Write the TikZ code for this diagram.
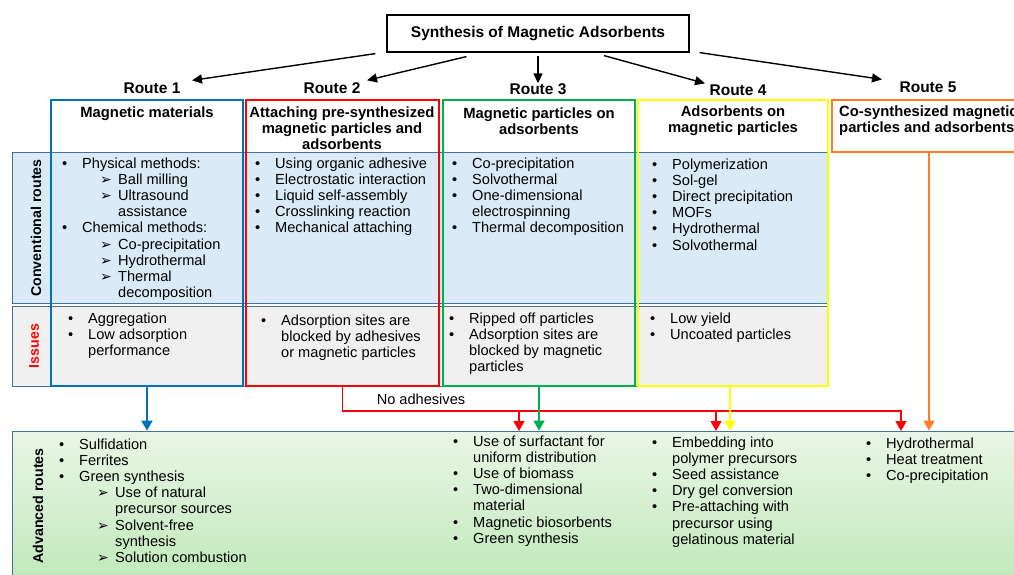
\documentclass[tikz,border=0pt]{standalone}
\usepackage{fontspec}
\setmainfont{Liberation Sans}
\newfontfamily\symfont{DejaVu Sans}
\usetikzlibrary{arrows.meta}
\definecolor{routeblue}{RGB}{0,112,192}
\definecolor{routered}{RGB}{255,0,0}
\definecolor{routegreen}{RGB}{0,176,80}
\definecolor{routeyellow}{RGB}{255,255,0}
\definecolor{routeorange}{RGB}{255,125,40}
\definecolor{convband}{RGB}{219,234,247}
\definecolor{issueband}{RGB}{240,240,240}
\definecolor{bandedge}{RGB}{65,113,156}
\definecolor{advtop}{RGB}{234,246,230}
\definecolor{advbottom}{RGB}{190,232,184}
\newcommand{\bul}{\makebox[20pt][l]{•}}
\newcommand{\ind}{\hspace*{20pt}}
\newcommand{\subarr}{\hspace*{38pt}\makebox[18pt][l]{\symfont\fontsize{14}{14}\selectfont ➢}}
\newcommand{\subind}{\hspace*{56pt}}
\tikzset{
  item/.style={font=\fontsize{14.6}{16.2}\selectfont, align=left, inner sep=0pt, anchor=north west},
  head/.style={font=\bfseries\fontsize{14.8}{16}\selectfont, align=center, inner sep=0pt},
  route/.style={font=\bfseries\fontsize{15.5}{16}\selectfont, inner sep=0pt},
  rowlabel/.style={font=\bfseries\fontsize{14.2}{16}\selectfont, rotate=90, inner sep=0pt},
  colbox/.style={draw=#1, line width=1.7pt, inner sep=0pt},
  band/.style={draw=bandedge, line width=0.7pt, inner sep=0pt},
  topconn/.style={line width=1.4pt, -{Triangle[length=10pt,width=9pt]}},
  conn/.style={#1, line width=1.6pt, -{Triangle[length=10pt,width=11pt]}},
}
\begin{document}
\begin{tikzpicture}[x=1pt, y=-1pt]
\useasboundingbox (0,0) rectangle (1014,575);
\clip (0,0) rectangle (1014,575);

\node[band, fill=convband, minimum width=816pt, minimum height=151pt] (conv) at (420,227.5) {};
\node[band, fill=issueband, minimum width=816pt, minimum height=80pt] (iss) at (420,346) {};
\node[band, top color=advtop, bottom color=advbottom, minimum width=1018pt, minimum height=159pt] (adv) at (521,510.5) {};

\node[colbox=routeblue, minimum width=192pt, minimum height=286pt] (col1) at (147,243) {};
\node[colbox=routered, minimum width=193pt, minimum height=286pt] (col2) at (342.5,243) {};
\node[colbox=routegreen, minimum width=192pt, minimum height=286pt] (col3) at (539,243) {};
\node[colbox=routeyellow, minimum width=190pt, minimum height=286pt] (col4) at (733,243) {};
\node[colbox=routeorange, minimum width=194pt, minimum height=52pt] (col5) at (929,126) {};

\node[draw, line width=1.2pt, minimum width=302pt, minimum height=37pt, font=\bfseries\fontsize{15.5}{16}\selectfont] (title) at (538,33.5) {Synthesis of Magnetic Adsorbents};

\node[route] (r1) at (152,88) {Route 1};
\node[route] (r2) at (332,88) {Route 2};
\node[route] (r3) at (538,89) {Route 3};
\node[route] (r4) at (738,90) {Route 4};
\node[route] (r5) at (928,87) {Route 5};

\draw[topconn] ([xshift=-11pt,yshift=-1pt]title.south west) -- ([xshift=40pt,yshift=2pt]r1.north);
\draw[topconn] ([xshift=80pt,yshift=-4pt]title.south west) -- ([xshift=35pt,yshift=2pt]r2.north);
\draw[topconn] ([yshift=-3pt]title.south) -- (r3.north);
\draw[topconn] ([xshift=66pt,yshift=-3pt]title.south) -- ([xshift=-33pt,yshift=1pt]r4.north);
\draw[topconn] ([xshift=10pt]title.south east) -- ([xshift=-46pt,yshift=2pt]r5.north);

\node[head] (h1) at (147,114) {Magnetic materials};
\node[head] (h2) at (342,128) {Attaching pre-synthesized\\magnetic particles and\\adsorbents};
\node[head] (h3) at (539,121) {Magnetic particles on\\adsorbents};
\node[head] (h4) at (733,121) {Adsorbents on\\magnetic particles};
\node[head, align=left, anchor=west] (h5) at (839,121) {Co-synthesized magnetic\\particles and adsorbents};

\node[rowlabel] (lconv) at (36,228) {Conventional routes};
\node[rowlabel, text=routered] (liss) at (34,346) {Issues};
\node[rowlabel] (ladv) at (38,506) {Advanced routes};

\node[item] (conv1) at (62,157.4) {\bul Physical methods:\\
  \subarr Ball milling\\ \subarr Ultrasound\\ \subind assistance\\
  \bul Chemical methods:\\ \subarr Co-precipitation\\ \subarr Hydrothermal\\
  \subarr Thermal\\ \subind decomposition};
\node[item] (conv2) at (255,157.4) {\bul Using organic adhesive\\ \bul Electrostatic interaction\\
  \bul Liquid self-assembly\\ \bul Crosslinking reaction\\ \bul Mechanical attaching};
\node[item] (conv3) at (452,157.4) {\bul Co-precipitation\\ \bul Solvothermal\\ \bul One-dimensional\\
  \ind electrospinning\\ \bul Thermal decomposition};
\node[item] (conv4) at (652,158.4) {\bul Polymerization\\ \bul Sol-gel\\ \bul Direct precipitation\\
  \bul MOFs\\ \bul Hydrothermal\\ \bul Solvothermal};

\node[item] (iss1) at (68,312.4) {\bul Aggregation\\ \bul Low adsorption\\ \ind performance};
\node[item] (iss2) at (261,314.4) {\bul Adsorption sites are\\ \ind blocked by adhesives\\ \ind or magnetic particles};
\node[item] (iss3) at (449,312.4) {\bul Ripped off particles\\ \bul Adsorption sites are\\ \ind blocked by magnetic\\ \ind particles};
\node[item] (iss4) at (650,312.4) {\bul Low yield\\ \bul Uncoated particles};

\node[item] (adv1) at (59,438.4) {\bul Sulfidation\\ \bul Ferrites\\ \bul Green synthesis\\
  \subarr Use of natural\\ \subind precursor sources\\ \subarr Solvent-free\\ \subind synthesis\\
  \subarr Solution combustion};
\node[item] (adv3) at (453,435.4) {\bul Use of surfactant for\\ \ind uniform distribution\\ \bul Use of biomass\\
  \bul Two-dimensional\\ \ind material\\ \bul Magnetic biosorbents\\ \bul Green synthesis};
\node[item] (adv4) at (652,436.4) {\bul Embedding into\\ \ind polymer precursors\\ \bul Seed assistance\\
  \bul Dry gel conversion\\ \bul Pre-attaching with\\ \ind precursor using\\ \ind gelatinous material};
\node[item] (adv5) at (866,437.4) {\bul Hydrothermal\\ \bul Heat treatment\\ \bul Co-precipitation};

\coordinate (split) at (0,411);
\coordinate (tgt3) at (519,431);
\coordinate (tgt4) at (716,431);
\coordinate (tgt5) at (901,431);
\node[item, anchor=center] (noadh) at (421,399) {No adhesives};

\draw[conn=routeblue] (col1.south) -- (col1.south |- adv.north);
\draw[conn=routered] (col2.south) -- (col2.south |- split) -| (tgt5);
\draw[conn=routered] (tgt3 |- split) -- (tgt3);
\draw[conn=routered] (tgt4 |- split) -- (tgt4);
\draw[conn=routegreen] (col3.south) -- (col3.south |- adv.north);
\draw[conn=routeyellow] ([xshift=-3pt]col4.south) -- ([xshift=-3pt]col4.south |- adv.north);
\draw[conn=routeorange] (col5.south) -- (col5.south |- adv.north);

\end{tikzpicture}
\end{document}
